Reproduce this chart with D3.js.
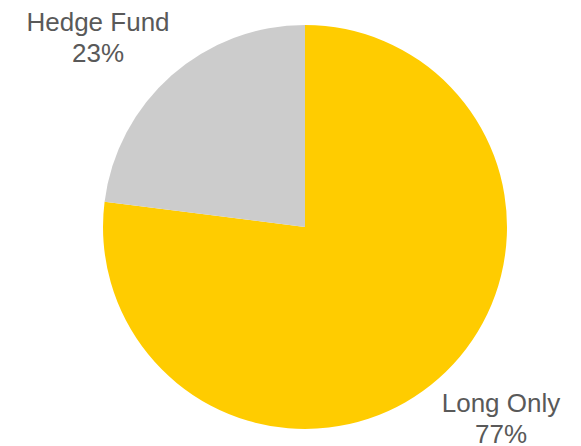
<!DOCTYPE html>
<html>
<head>
<meta charset="utf-8">
<script src="https://cdn.jsdelivr.net/npm/d3@7"></script>
<style>
  body { margin: 0; background: #fff; overflow: hidden; }
  svg { display: block; }
  .lbl { font-family: "Liberation Sans", Arial, sans-serif; font-size: 26px; fill: #595959; }
</style>
</head>
<body>
<div id="chart"></div>
<script>
const categories = ["Long Only", "Hedge Fund"];
const shares = [77, 23];
const colors = ["#FFCC00", "#CCCCCC"];

const width = 581, height = 446;
const cx = 305, cy = 227, radius = 202;

const svg = d3.select("#chart").append("svg")
    .attr("width", width)
    .attr("height", height);

const g = svg.append("g").attr("transform", `translate(${cx}, ${cy})`);

const pie = d3.pie().sort(null).value(d => d.value);
const arc = d3.arc().innerRadius(0).outerRadius(radius);

const data = categories.map((c, i) => ({ name: c, value: shares[i], color: colors[i] }));
const arcs = pie(data);

g.selectAll("path.slice")
    .data(arcs)
    .enter()
    .append("path")
    .attr("class", "slice")
    .attr("d", arc)
    .attr("fill", d => d.data.color);

// labels sit outside the pie, placed off the slice's outer edge
const labelPos = {
    "Long Only": [501 - cx, 412 - cy],
    "Hedge Fund": [98 - cx, 31 - cy]
};

arcs.forEach(a => {
    const [x, y] = labelPos[a.data.name];
    const t = g.append("text")
        .attr("class", "lbl")
        .attr("text-anchor", "middle")
        .attr("x", x)
        .attr("y", y);
    t.append("tspan").attr("x", x).text(a.data.name);
    t.append("tspan").attr("x", x).attr("dy", 31).text(a.data.value + "%");
});
</script>
</body>
</html>
